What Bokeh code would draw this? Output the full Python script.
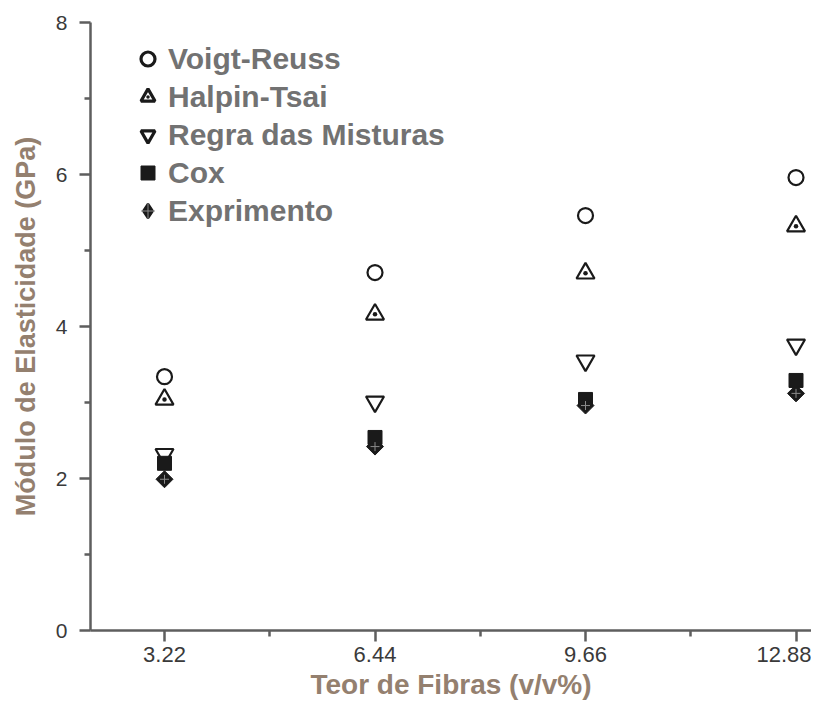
import math
from bokeh.plotting import figure
from bokeh.models import (Range1d, FixedTicker, Legend, LegendItem, ColumnDataSource)
from bokeh.embed import file_html
from bokeh.resources import INLINE

# ---- data ----
teor = [3.22, 6.44, 9.66, 12.88]
voigt_reuss = [3.34, 4.71, 5.46, 5.96]
halpin_tsai = [3.04, 4.16, 4.70, 5.32]
regra_misturas = [2.32, 3.01, 3.55, 3.76]
cox = [2.20, 2.54, 3.04, 3.29]
exprimento = [1.99, 2.42, 2.96, 3.12]

x_ticks = [3.22, 6.44, 9.66, 12.88]
x_minor = [4.83, 8.05, 11.27]
y_ticks = [0, 2, 4, 6, 8]
y_minor = [1, 3, 5, 7]

FONT = "Liberation Sans"
AXIS_COL = "#5e5e5e"
MARK = "#1a1a1a"

p = figure(width=811, height=702, output_backend="svg", toolbar_location=None,
           x_range=Range1d(2.088, 13.117), y_range=Range1d(0, 8),
           min_border_left=90, min_border_right=0, min_border_top=22,
           min_border_bottom=72)
p.outline_line_color = None
p.xgrid.visible = False
p.ygrid.visible = False
p.background_fill_color = "white"
p.border_fill_color = "white"

src = ColumnDataSource(dict(x=teor, vr=voigt_reuss, ht=halpin_tsai,
                            rm=regra_misturas, cx=cox, ex=exprimento))

r1 = p.scatter("x", "vr", source=src, marker="circle", size=15,
               fill_color=None, line_color=MARK, line_width=2.2)
r2 = p.scatter("x", "ht", source=src, marker="triangle_dot", size=18,
               fill_color=None, line_color=MARK, line_width=2.2)
r3 = p.scatter("x", "rm", source=src, marker="inverted_triangle", size=18,
               fill_color=None, line_color=MARK, line_width=2.2)
r4 = p.scatter("x", "cx", source=src, marker="square", size=14,
               fill_color=MARK, line_color=MARK, line_width=1)
r5 = p.scatter("x", "ex", source=src, marker="square", size=12,
               angle=math.pi / 4, fill_color=MARK, line_color=MARK,
               line_width=1)
r5b = p.scatter("x", "ex", source=src, marker="cross", size=9,
                fill_color=None, line_color="#8a8a8a", line_width=1)

# legend proxies (heavier strokes, as in the reference legend)
l1 = p.scatter("x", "vr", source=src, marker="circle", fill_color=None,
               line_color=MARK, line_width=3.2, visible=False)
l2 = p.scatter("x", "ht", source=src, marker="triangle_dot", fill_color=None,
               line_color=MARK, line_width=3.2, visible=False)
l3 = p.scatter("x", "rm", source=src, marker="inverted_triangle",
               fill_color=None, line_color=MARK, line_width=3.2, visible=False)
l4 = p.scatter("x", "cx", source=src, marker="square", fill_color=MARK,
               line_color=MARK, line_width=1, visible=False)
l5 = p.scatter("x", "ex", source=src, marker="diamond",
               fill_color=MARK, line_color=MARK, line_width=2.5, visible=False)
l5b = p.scatter("x", "ex", source=src, marker="cross", fill_color=None,
                line_color="#8a8a8a", line_width=1, visible=False)

for ax in (p.xaxis[0], p.yaxis[0]):
    ax.axis_line_color = AXIS_COL
    ax.axis_line_width = 2.5
    ax.major_tick_line_color = AXIS_COL
    ax.major_tick_line_width = 2.5
    ax.minor_tick_line_color = AXIS_COL
    ax.minor_tick_line_width = 2.5
    ax.major_tick_in = 0
    ax.major_tick_out = 11
    ax.minor_tick_in = 0
    ax.minor_tick_out = 6
    ax.major_label_text_font = FONT
    ax.major_label_text_color = "#3a3a3a"
    ax.axis_label_text_font = FONT
    ax.axis_label_text_font_style = "bold"
    ax.axis_label_text_color = "#94806f"

p.xaxis.ticker = FixedTicker(ticks=x_ticks, minor_ticks=x_minor)
p.yaxis.ticker = FixedTicker(ticks=y_ticks, minor_ticks=y_minor)
p.xaxis.major_label_overrides = {v: f"{v:.2f}" for v in x_ticks}
p.xaxis.axis_label = "Teor de Fibras (v/v%)"
p.yaxis.axis_label = "Módulo de Elasticidade (GPa)"
p.xaxis.major_label_text_font_size = "22px"
p.yaxis.major_label_text_font_size = "21px"
p.xaxis.axis_label_text_font_size = "28px"
p.yaxis.axis_label_text_font_size = "27px"
p.xaxis.major_label_standoff = 5
p.yaxis.major_label_standoff = 12
p.xaxis.axis_label_standoff = 4
p.yaxis.axis_label_standoff = 12

legend = Legend(items=[
    LegendItem(label="Voigt-Reuss", renderers=[l1]),
    LegendItem(label="Halpin-Tsai", renderers=[l2]),
    LegendItem(label="Regra das Misturas", renderers=[l3]),
    LegendItem(label="Cox", renderers=[l4]),
    LegendItem(label="Exprimento", renderers=[l5, l5b]),
], location=(40, 402), border_line_color=None, background_fill_alpha=0,
    label_text_font=FONT, label_text_font_style="bold",
    label_text_font_size="30px", label_text_color="#727272",
    glyph_width=35, glyph_height=35, spacing=3, padding=0, margin=0,
    label_standoff=3)
p.add_layout(legend)

open("out.html", "w").write(file_html(p, INLINE))
